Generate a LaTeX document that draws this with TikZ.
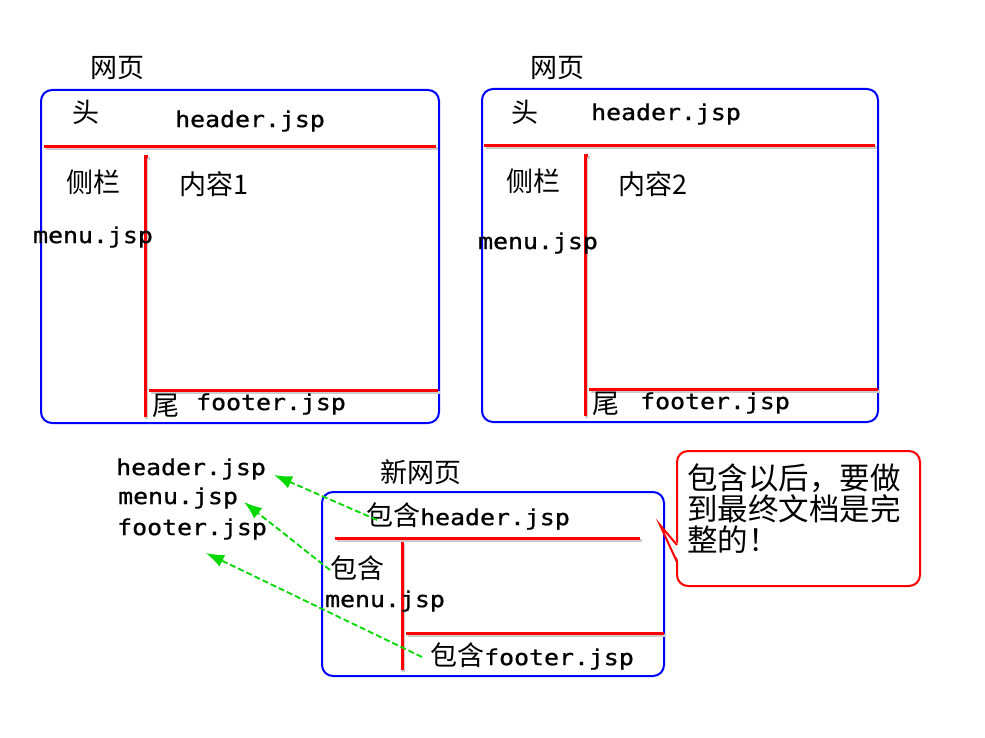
\documentclass[tikz,border=0pt]{standalone}
\usepackage{fontspec}
\usepackage{graphicx}
\usetikzlibrary{arrows.meta}
\newfontfamily\cjk{Noto Sans CJK SC}
\newfontfamily\monof[FakeBold=0.8]{DejaVu Sans Mono}
\setmainfont{Noto Sans CJK SC}
\newcommand{\mj}[1]{{\monof\scalebox{1.13}[1]{#1}}}
\tikzset{
  box/.style={draw=blue, line width=2pt, rounded corners=11pt},
  redl/.style={draw=red, line width=3pt, preaction={draw=black!20, line width=3pt, transform canvas={shift={(1.5pt,-2pt)}}}},
  lbl/.style={inner sep=0pt, font=\fontsize{27}{30}\selectfont\cjk},
  code/.style={inner sep=0pt, font=\fontsize{22}{26}\selectfont},
  inc/.style={draw=green!85!black, line width=1.8pt, dash pattern=on 6pt off 3pt, -{Latex[length=18pt,width=13pt]}},
}
\begin{document}
\begin{tikzpicture}[x=1pt,y=-1pt]
\useasboundingbox (0,0) rectangle (985,738);
\fill[white] (0,0) rectangle (985,738);

% ---------- page 1 ----------
\node[lbl] (t1) at (117,68) {网页};
\draw[box] (41,90) rectangle (439,423);
\draw[redl] (44,147) -- (436,147);
\draw[redl] (148,157) -- (145,157) -- (145,417);
\draw[redl] (149,390) -- (438,390);
\node[lbl] (h1) at (86,112) {头};
\node[code] (hj1) at (250,121) {\mj{header.jsp}};
\node[lbl] (s1) at (93,182) {侧栏};
\node[lbl] (c1) at (214,184) {内容1};
\node[code] (mj1) at (93,237) {\mj{menu.jsp}};
\node[lbl] (f1) at (166,406) {尾};
\node[code] (fj1) at (271,404) {\mj{footer.jsp}};

% ---------- page 2 ----------
\node[lbl] (t2) at (557,68) {网页};
\draw[box] (482,89) rectangle (878,422);
\draw[redl] (484,146) -- (875,146);
\draw[redl] (588,156) -- (585,156) -- (585,416);
\draw[redl] (589,389) -- (878,389);
\node[lbl] (h2) at (525,112) {头};
\node[code] (hj2) at (666,114) {\mj{header.jsp}};
\node[lbl] (s2) at (533,181) {侧栏};
\node[lbl] (c2) at (653,184) {内容2};
\node[code] (mj2) at (538,243) {\mj{menu.jsp}};
\node[lbl] (f2) at (606,404) {尾};
\node[code] (fj2) at (715,403) {\mj{footer.jsp}};

% ---------- new page ----------
\node[lbl] (t3) at (421,472) {新网页};
\draw[box] (322,492) rectangle (664,676);
\draw[redl] (335,538) -- (640,538);
\draw[redl] (402,542) -- (402,670);
\draw[redl] (406,633) -- (664,633);
\node[code] (ih) at (468,516) {{\fontsize{27}{30}\selectfont\cjk 包含}\mj{header.jsp}};
\node[lbl] (im) at (357,568) {包含};
\node[code] (mj3) at (385,601) {\mj{menu.jsp}};
\node[code] (if) at (532,656) {{\fontsize{27}{30}\selectfont\cjk 包含}\mj{footer.jsp}};

% ---------- included files ----------
\node[code, anchor=west] (lh) at (116,469) {\mj{header.jsp}};
\node[code, anchor=west] (lm) at (118,498) {\mj{menu.jsp}};
\node[code, anchor=west] (lf) at (117,529) {\mj{footer.jsp}};

\coordinate (a1s) at (377,520);
\coordinate (a1t) at (274,475);
\coordinate (a2s) at (330,570);
\coordinate (a2t) at (244,502);
\coordinate (a3s) at (422,657);
\coordinate (a3t) at (206,553);
\draw[inc] (a1s) -- (a1t);
\draw[inc] (a2s) -- (a2t);
\draw[inc] (a3s) -- (a3t);

% ---------- callout ----------
\node[draw=red, line width=2pt, rounded corners=11pt, fill=white, minimum width=243pt, minimum height=135pt, inner sep=0pt] (callout) at (798.5,518.5) {};
\coordinate (ptip) at (660,525);
\coordinate (pa) at (677,545);
\coordinate (pb) at (677,562);
\fill[white] (679,545) -- (ptip) -- (679,562) -- cycle;
\draw[red, line width=2pt, line join=miter] (pa) -- (ptip) -- (pb);
\node[inner sep=0pt, anchor=north west, align=left, font=\fontsize{30.5}{31}\selectfont\cjk] (ctext) at (687,464) {包含以后，要做\\到最终文档是完\\整的！};
\end{tikzpicture}
\end{document}
